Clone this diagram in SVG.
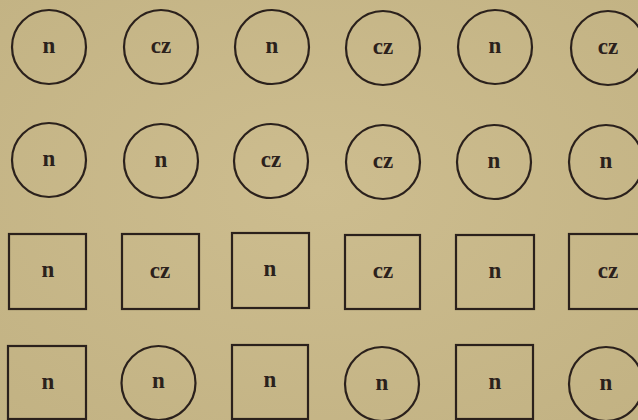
<svg xmlns="http://www.w3.org/2000/svg" width="638" height="420" viewBox="0 0 638 420">
<style>
.s{fill:none;stroke:#2b211c;stroke-width:2.2}
.t{font-family:"Liberation Serif","DejaVu Serif",serif;font-size:23px;font-weight:bold;fill:#2b211c;text-anchor:middle}
</style>
<defs>
<radialGradient id="bg" cx="0.5" cy="0.45" r="0.75">
<stop offset="0" stop-color="#cdbd8f"/>
<stop offset="1" stop-color="#c2b283"/>
</radialGradient>
</defs>
<rect width="638" height="420" fill="url(#bg)"/>
<g id="r1c1"><circle class="s" cx="49" cy="47" r="37"/><text class="t" x="49" y="53">n</text></g>
<g id="r1c2"><circle class="s" cx="161" cy="47" r="37"/><text class="t" x="161" y="53">cz</text></g>
<g id="r1c3"><circle class="s" cx="272" cy="47" r="37"/><text class="t" x="272" y="53">n</text></g>
<g id="r1c4"><circle class="s" cx="383" cy="48" r="37"/><text class="t" x="383" y="54">cz</text></g>
<g id="r1c5"><circle class="s" cx="495" cy="47" r="37"/><text class="t" x="495" y="53">n</text></g>
<g id="r1c6"><circle class="s" cx="608" cy="48" r="37"/><text class="t" x="608" y="54">cz</text></g>
<g id="r2c1"><circle class="s" cx="49" cy="160" r="37"/><text class="t" x="49" y="166">n</text></g>
<g id="r2c2"><circle class="s" cx="161" cy="161" r="37"/><text class="t" x="161" y="167">n</text></g>
<g id="r2c3"><circle class="s" cx="271" cy="161" r="37"/><text class="t" x="271" y="167">cz</text></g>
<g id="r2c4"><circle class="s" cx="383" cy="162" r="37"/><text class="t" x="383" y="168">cz</text></g>
<g id="r2c5"><circle class="s" cx="494" cy="162" r="37"/><text class="t" x="494" y="168">n</text></g>
<g id="r2c6"><circle class="s" cx="606" cy="162" r="37"/><text class="t" x="606" y="168">n</text></g>
<g id="r3c1"><rect class="s" x="9" y="234" width="77" height="75"/><text class="t" x="48" y="277">n</text></g>
<g id="r3c2"><rect class="s" x="122" y="234" width="77" height="75"/><text class="t" x="160" y="278">cz</text></g>
<g id="r3c3"><rect class="s" x="232" y="233" width="77" height="75"/><text class="t" x="270" y="276">n</text></g>
<g id="r3c4"><rect class="s" x="345" y="235" width="75" height="74"/><text class="t" x="383" y="278">cz</text></g>
<g id="r3c5"><rect class="s" x="456" y="235" width="78" height="74"/><text class="t" x="495" y="278">n</text></g>
<g id="r3c6"><rect class="s" x="569" y="234" width="77" height="75"/><text class="t" x="608" y="278">cz</text></g>
<g id="r4c1"><rect class="s" x="8" y="346" width="78" height="73"/><text class="t" x="48" y="389">n</text></g>
<g id="r4c2"><circle class="s" cx="158.5" cy="383" r="37"/><text class="t" x="158.5" y="388">n</text></g>
<g id="r4c3"><rect class="s" x="232" y="345" width="76" height="74"/><text class="t" x="270" y="387">n</text></g>
<g id="r4c4"><circle class="s" cx="382" cy="384" r="37"/><text class="t" x="382" y="390">n</text></g>
<g id="r4c5"><rect class="s" x="456" y="345" width="77" height="74"/><text class="t" x="495" y="389">n</text></g>
<g id="r4c6"><circle class="s" cx="606" cy="384" r="37"/><text class="t" x="606" y="390">n</text></g>
<g id="connectors"></g>
</svg>
